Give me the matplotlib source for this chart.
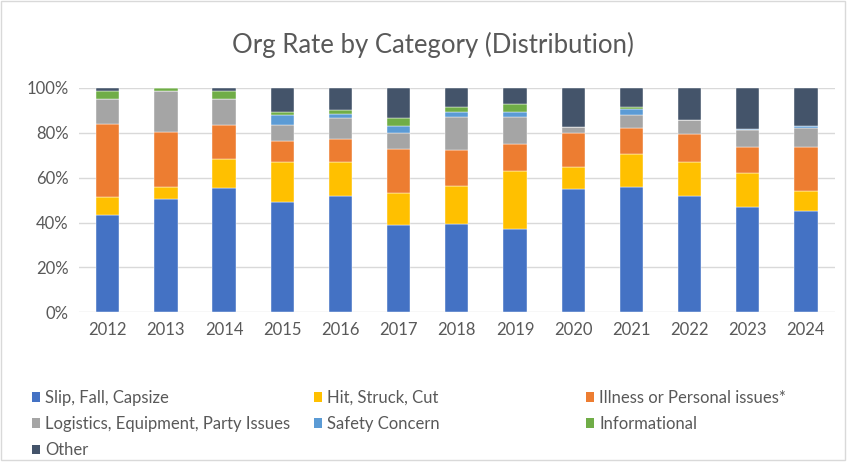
import matplotlib.pyplot as plt
from matplotlib.patches import Rectangle, Patch
import numpy as np

years = ["2012", "2013", "2014", "2015", "2016", "2017", "2018",
         "2019", "2020", "2021", "2022", "2023", "2024"]

slip = [43.5, 50.7, 55.6, 49.2, 51.7, 39.1, 39.2, 37.3, 54.8, 56.0, 51.7, 47.1, 45.0]
hit = [8.1, 5.3, 12.6, 17.8, 15.2, 13.9, 17.1, 25.9, 10.0, 14.4, 15.2, 14.9, 9.1]
illness = [32.2, 24.5, 15.3, 9.2, 10.5, 19.9, 16.2, 12.0, 15.1, 11.9, 12.4, 11.6, 19.5]
logistics = [11.4, 18.2, 11.6, 7.2, 9.1, 7.2, 14.7, 12.0, 2.6, 5.8, 6.4, 7.7, 8.7]
safety = [0.0, 0.0, 0.0, 4.7, 1.8, 3.1, 2.2, 2.2, 0.0, 2.4, 0.0, 0.6, 0.8]
informational = [3.5, 1.3, 3.6, 1.2, 1.9, 3.4, 2.1, 3.3, 0.0, 1.0, 0.0, 0.0, 0.0]
other = [1.3, 0.0, 1.3, 10.7, 9.8, 13.4, 8.5, 7.3, 17.5, 8.5, 14.3, 18.1, 16.9]

labels = ["Slip, Fall, Capsize", "Hit, Struck, Cut", "Illness or Personal issues*",
          "Logistics, Equipment, Party Issues", "Safety Concern", "Informational", "Other"]
colors = ["#4472C4", "#FFC000", "#ED7D31", "#A5A5A5", "#5B9BD5", "#70AD47", "#44546A"]

plt.rcParams['font.family'] = ['Lato', 'DejaVu Sans']
txt = "#595959"

fig = plt.figure(figsize=(8.48, 4.63), dpi=100)
ax = fig.add_axes([0.0927, 0.3255, 0.892, 0.4845])

series = [slip, hit, illness, logistics, safety, informational, other]
x = np.arange(len(years))
bottom = np.zeros(len(years))
for vals, col in zip(series, colors):
    vals = np.array(vals)
    ax.bar(x, vals, 0.4, bottom=bottom, color=col, edgecolor="white", linewidth=0.3, zorder=3)
    bottom += vals

ax.set_xlim(-0.5, len(years) - 0.5)
ax.set_ylim(0, 100)
ax.set_yticks([0, 20, 40, 60, 80, 100])
ax.set_yticklabels(["0%", "20%", "40%", "60%", "80%", "100%"])
ax.set_xticks(x)
ax.set_xticklabels(years)
ax.grid(axis="y", color="#d9d9d9", linewidth=1, zorder=0)
for s in ax.spines.values():
    s.set_visible(False)
ax.tick_params(length=0, labelsize=12, colors=txt, pad=7)

fig.text(0.51, 0.903, "Org Rate by Category (Distribution)", ha="center", va="center",
         fontsize=18.5, color=txt)

# legend in three equal-width columns, like Excel lays it out
handles = [Patch(facecolor=c, edgecolor="none") for c in colors]
cols = [[0, 3, 6], [1, 4], [2, 5]]
xs = [0.03, 0.362, 0.683]
for idx, xp in zip(cols, xs):
    leg = fig.legend([handles[i] for i in idx], [labels[i] for i in idx],
                     loc="upper left", bbox_to_anchor=(xp, 1 - 383 / 463), frameon=False,
                     fontsize=12, handlelength=0.5, handleheight=0.5, handletextpad=0.3,
                     labelspacing=0.62, borderaxespad=0)
    for t in leg.get_texts():
        t.set_color(txt)

fig.patches.append(Rectangle((0.001, 0.006), 0.995, 0.992, transform=fig.transFigure,
                             fill=False, edgecolor="#d9d9d9", linewidth=1))

fig.savefig("out.png", dpi=100)
